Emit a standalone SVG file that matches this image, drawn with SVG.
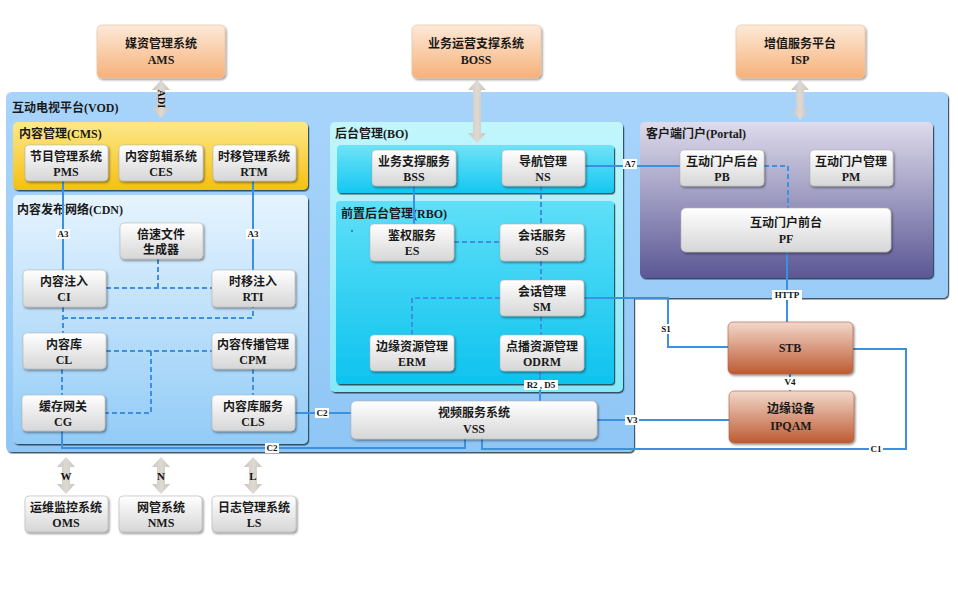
<svg xmlns="http://www.w3.org/2000/svg" width="958" height="590" viewBox="0 0 958 590">
<defs>
<linearGradient id="gVod" x1="0" y1="0" x2="0" y2="1"><stop offset="0" stop-color="#a8d4fb"/><stop offset="1" stop-color="#8fc6f5"/></linearGradient>
<linearGradient id="gCms" x1="0" y1="0" x2="0" y2="1"><stop offset="0" stop-color="#fde88a"/><stop offset="1" stop-color="#f6c012"/></linearGradient>
<linearGradient id="gCdn" x1="0" y1="0" x2="0" y2="1"><stop offset="0" stop-color="#e6f4fe"/><stop offset="1" stop-color="#92cbf7"/></linearGradient>
<linearGradient id="gBo" x1="0" y1="0" x2="0" y2="1"><stop offset="0" stop-color="#c2f6fc"/><stop offset="1" stop-color="#86e8f8"/></linearGradient>
<linearGradient id="gBand" x1="0" y1="0" x2="0" y2="1"><stop offset="0" stop-color="#6fe3f8"/><stop offset="1" stop-color="#14c7f1"/></linearGradient>
<linearGradient id="gRbo" x1="0" y1="0" x2="0" y2="1"><stop offset="0" stop-color="#5fdff8"/><stop offset="1" stop-color="#0ec3ef"/></linearGradient>
<linearGradient id="gPortal" x1="0" y1="0" x2="0" y2="1"><stop offset="0" stop-color="#dedbeb"/><stop offset="1" stop-color="#5b5795"/></linearGradient>
<linearGradient id="gNode" x1="0" y1="0" x2="0" y2="1"><stop offset="0" stop-color="#ffffff"/><stop offset="1" stop-color="#d6d6d6"/></linearGradient>
<linearGradient id="gPeach" x1="0" y1="0" x2="0" y2="1"><stop offset="0" stop-color="#fde9d8"/><stop offset="1" stop-color="#f6b17a"/></linearGradient>
<linearGradient id="gBrown" x1="0" y1="0" x2="0" y2="1"><stop offset="0" stop-color="#f3d8cb"/><stop offset="1" stop-color="#bd5a32"/></linearGradient>
<linearGradient id="gArrow" x1="0" y1="0" x2="1" y2="0"><stop offset="0" stop-color="#c9c4ba"/><stop offset="0.5" stop-color="#dedad3"/><stop offset="1" stop-color="#c9c4ba"/></linearGradient>
<filter id="sh" x="-10%" y="-10%" width="130%" height="140%"><feDropShadow dx="1.2" dy="1.5" stdDeviation="1" flood-color="#000" flood-opacity="0.45"/></filter>
<filter id="shP" x="-5%" y="-5%" width="110%" height="110%"><feDropShadow dx="1.2" dy="1.5" stdDeviation="0.6" flood-color="#1e2e40" flood-opacity="0.8"/></filter>
</defs>
<style>
.t{font-family:"Liberation Serif","Noto Sans CJK SC",serif;font-size:12px;font-weight:bold;fill:#1a1a1a;text-anchor:middle}
.ttl{font-family:"Liberation Serif","Noto Sans CJK SC",serif;font-size:12px;font-weight:bold;fill:#1a1a1a}
.l{font-family:"Liberation Serif",serif;font-size:9px;font-weight:bold;fill:#111;text-anchor:middle}
.lb{fill:#fff}
.node{fill:url(#gNode);stroke:#b5b5b5;stroke-width:0.6;filter:url(#sh)}
.peach{fill:url(#gPeach);stroke:#e8c2a0;stroke-width:0.6;filter:url(#sh)}
.brown{fill:url(#gBrown);stroke:#b06040;stroke-width:0.6;filter:url(#sh)}
.c{stroke:#3d8fe0;stroke-width:2;fill:none}
.d{stroke-dasharray:5 3}
.ga{fill:url(#gArrow)}
</style>
<rect width="958" height="590" fill="#ffffff"/>

<g id="vod">
<path d="M12,92 H942 Q948,92 948,98 V292 Q948,298 942,298 H634 V446 Q634,452 628,452 H12 Q6,452 6,446 V98 Q6,92 12,92 Z" fill="url(#gVod)" filter="url(#shP)"/>
<text class="ttl" x="12" y="112">互动电视平台(VOD)</text>
</g>

<g id="cms">
<rect x="13" y="122" width="295" height="68" rx="5" fill="url(#gCms)" filter="url(#shP)"/>
<text class="ttl" x="19" y="138">内容管理(CMS)</text>
</g>
<g id="cdn">
<rect x="13" y="195" width="295" height="249" rx="5" fill="url(#gCdn)" filter="url(#shP)"/>
<text class="ttl" x="17" y="214">内容发布网络(CDN)</text>
</g>
<g id="bo">
<rect x="330" y="122" width="293" height="270" rx="5" fill="url(#gBo)" filter="url(#shP)"/>
<text class="ttl" x="335" y="138">后台管理(BO)</text>
<rect x="337" y="145" width="277" height="48" rx="4" fill="url(#gBand)" filter="url(#shP)"/>
</g>
<g id="rbo">
<rect x="336" y="201" width="278" height="183" rx="4" fill="url(#gRbo)" filter="url(#shP)"/>
<text class="ttl" x="341" y="218">前置后台管理(RBO)</text>
<circle cx="352" cy="231" r="0.8" fill="#222"/>
</g>
<g id="portal">
<rect x="640" y="122" width="293" height="156" rx="5" fill="url(#gPortal)" filter="url(#shP)"/>
<text class="ttl" x="646" y="138">客户端门户(Portal)</text>
</g>

<g id="connectors">
<path class="c" d="M63,181 V270"/>
<path class="c" d="M253,181 V270"/>
<path class="c d" d="M158,259 V288"/>
<path class="c d" d="M106,288 H212"/>
<path class="c d" d="M63,307 V333"/>
<path class="c d" d="M63,318 H253 V307"/>
<path class="c d" d="M106,351 H212"/>
<path class="c d" d="M151,351 V413 H105"/>
<path class="c d" d="M62,369 V395"/>
<path class="c d" d="M253,369 V395"/>
<path class="c" d="M295,413 H351"/>
<path class="c" d="M62,431 V448 H465 V439"/>
<path class="c" d="M414,186 V224"/>
<path class="c d" d="M541,186 V224"/>
<path class="c d" d="M541,261 V280"/>
<path class="c d" d="M541,316 V335"/>
<path class="c d" d="M454,242 H500"/>
<path class="c d" d="M500,298 H412 V335"/>
<path class="c" d="M584,298 H668 V347 H728"/>
<path class="c" d="M585,166 H680"/>
<path class="c d" d="M764,166 H788 V208"/>
<path class="c" d="M787,252 V322"/>
<path class="c d" d="M790,374 V391"/>
<path class="c" d="M540,371 V401"/>
<path class="c" d="M597,420 H729"/>
<path class="c" d="M853,349 H906 V449 H482 V439"/>
<rect class="lb" x="56" y="229" width="14" height="10"/><text class="l" x="63" y="237">A3</text>
<rect class="lb" x="246" y="229" width="14" height="10"/><text class="l" x="253" y="237">A3</text>
<rect class="lb" x="315" y="408" width="14" height="10"/><text class="l" x="322" y="416">C2</text>
<rect class="lb" x="265" y="443" width="14" height="10"/><text class="l" x="272" y="451">C2</text>
<rect class="lb" x="623" y="159" width="14" height="10"/><text class="l" x="630" y="167">A7</text>
<rect class="lb" x="659" y="324" width="14" height="10"/><text class="l" x="666" y="332">S1</text>
<rect class="lb" x="772" y="290" width="30" height="10"/><text class="l" x="787" y="298">HTTP</text>
<rect class="lb" x="783" y="377" width="14" height="10"/><text class="l" x="790" y="385">V4</text>
<rect class="lb" x="524" y="380" width="34" height="10"/><text class="l" x="541" y="388">R2 , D5</text>
<rect class="lb" x="625" y="415" width="14" height="10"/><text class="l" x="632" y="423">V3</text>
<rect class="lb" x="869" y="444" width="14" height="10"/><text class="l" x="876" y="452">C1</text>
</g>

<g id="arrows">
<path class="ga" d="M161,80 L170,90 L165,90 L165,108 L170,108 L161,118 L152,108 L157,108 L157,90 L152,90 Z"/>
<text class="l" x="0" y="0" transform="translate(157.5,99) rotate(90)" style="font-size:10px">ADI</text>
<path class="ga" d="M477,80 L486,90 L481,90 L481,133 L486,133 L477,143 L468,133 L473,133 L473,90 L468,90 Z"/>
<path class="ga" d="M800,80 L809,90 L804,90 L804,110 L809,110 L800,120 L791,110 L796,110 L796,90 L791,90 Z"/>
<path class="ga" d="M66,457 L75,467 L70,467 L70,484 L75,484 L66,494 L57,484 L62,484 L62,467 L57,467 Z"/>
<text class="l" x="66" y="480" style="font-size:11px">W</text>
<path class="ga" d="M161,457 L170,467 L165,467 L165,484 L170,484 L161,494 L152,484 L157,484 L157,467 L152,467 Z"/>
<text class="l" x="161" y="480" style="font-size:11px">N</text>
<path class="ga" d="M253,457 L262,467 L257,467 L257,484 L262,484 L253,494 L244,484 L249,484 L249,467 L244,467 Z"/>
<text class="l" x="253" y="480" style="font-size:11px">L</text>
</g>

<g id="ams"><rect class="peach" x="97" y="25" width="128" height="53" rx="5"/><text class="t" x="161" y="48">媒资管理系统</text><text class="t" x="161" y="64">AMS</text></g>
<g id="boss"><rect class="peach" x="412" y="25" width="129" height="53" rx="5"/><text class="t" x="476" y="48">业务运营支撑系统</text><text class="t" x="476" y="64">BOSS</text></g>
<g id="isp"><rect class="peach" x="736" y="25" width="129" height="53" rx="5"/><text class="t" x="800" y="48">增值服务平台</text><text class="t" x="800" y="64">ISP</text></g>

<g id="pms"><rect class="node" x="25" y="145" width="83" height="36" rx="4"/><text class="t" x="66" y="161">节目管理系统</text><text class="t" x="66" y="176">PMS</text></g>
<g id="ces"><rect class="node" x="119" y="145" width="84" height="36" rx="4"/><text class="t" x="161" y="161">内容剪辑系统</text><text class="t" x="161" y="176">CES</text></g>
<g id="rtm"><rect class="node" x="213" y="145" width="83" height="36" rx="4"/><text class="t" x="254" y="161">时移管理系统</text><text class="t" x="254" y="176">RTM</text></g>

<g id="bsfg"><rect class="node" x="120" y="223" width="83" height="36" rx="4"/><text class="t" x="161" y="239">倍速文件</text><text class="t" x="161" y="254">生成器</text></g>
<g id="ci"><rect class="node" x="23" y="270" width="83" height="37" rx="4"/><text class="t" x="64" y="286">内容注入</text><text class="t" x="64" y="301">CI</text></g>
<g id="rti"><rect class="node" x="212" y="270" width="83" height="37" rx="4"/><text class="t" x="253" y="286">时移注入</text><text class="t" x="253" y="301">RTI</text></g>
<g id="cl"><rect class="node" x="23" y="333" width="83" height="36" rx="4"/><text class="t" x="64" y="349">内容库</text><text class="t" x="64" y="364">CL</text></g>
<g id="cpm"><rect class="node" x="212" y="333" width="83" height="36" rx="4"/><text class="t" x="253" y="349">内容传播管理</text><text class="t" x="253" y="364">CPM</text></g>
<g id="cg"><rect class="node" x="22" y="395" width="83" height="36" rx="4"/><text class="t" x="63" y="411">缓存网关</text><text class="t" x="63" y="426">CG</text></g>
<g id="cls"><rect class="node" x="212" y="395" width="83" height="36" rx="4"/><text class="t" x="253" y="411">内容库服务</text><text class="t" x="253" y="426">CLS</text></g>

<g id="bss"><rect class="node" x="372" y="150" width="84" height="36" rx="4"/><text class="t" x="414" y="166">业务支撑服务</text><text class="t" x="414" y="181">BSS</text></g>
<g id="ns"><rect class="node" x="502" y="150" width="83" height="36" rx="4"/><text class="t" x="543" y="166">导航管理</text><text class="t" x="543" y="181">NS</text></g>
<g id="es"><rect class="node" x="370" y="224" width="84" height="37" rx="4"/><text class="t" x="412" y="240">鉴权服务</text><text class="t" x="412" y="255">ES</text></g>
<g id="ss"><rect class="node" x="500" y="224" width="84" height="37" rx="4"/><text class="t" x="542" y="240">会话服务</text><text class="t" x="542" y="255">SS</text></g>
<g id="sm"><rect class="node" x="500" y="280" width="84" height="36" rx="4"/><text class="t" x="542" y="296">会话管理</text><text class="t" x="542" y="311">SM</text></g>
<g id="erm"><rect class="node" x="370" y="335" width="84" height="36" rx="4"/><text class="t" x="412" y="351">边缘资源管理</text><text class="t" x="412" y="366">ERM</text></g>
<g id="odrm"><rect class="node" x="500" y="335" width="84" height="36" rx="4"/><text class="t" x="542" y="351">点播资源管理</text><text class="t" x="542" y="366">ODRM</text></g>
<g id="vss"><rect class="node" x="351" y="401" width="246" height="38" rx="5"/><text class="t" x="474" y="417">视频服务系统</text><text class="t" x="474" y="433">VSS</text></g>

<g id="pb"><rect class="node" x="680" y="150" width="84" height="36" rx="4"/><text class="t" x="722" y="166">互动门户后台</text><text class="t" x="722" y="181">PB</text></g>
<g id="pm"><rect class="node" x="810" y="150" width="83" height="36" rx="4"/><text class="t" x="851" y="166">互动门户管理</text><text class="t" x="851" y="181">PM</text></g>
<g id="pf"><rect class="node" x="681" y="208" width="210" height="44" rx="5"/><text class="t" x="786" y="227">互动门户前台</text><text class="t" x="786" y="243">PF</text></g>

<g id="stb"><rect class="brown" x="728" y="322" width="125" height="52" rx="5"/><text class="t" x="790" y="352">STB</text></g>
<g id="ipqam"><rect class="brown" x="729" y="391" width="125" height="52" rx="5"/><text class="t" x="791" y="413">边缘设备</text><text class="t" x="791" y="430">IPQAM</text></g>

<g id="oms"><rect class="node" x="25" y="496" width="83" height="36" rx="4"/><text class="t" x="66" y="512">运维监控系统</text><text class="t" x="66" y="527">OMS</text></g>
<g id="nms"><rect class="node" x="119" y="496" width="83" height="36" rx="4"/><text class="t" x="161" y="512">网管系统</text><text class="t" x="161" y="527">NMS</text></g>
<g id="ls"><rect class="node" x="212" y="496" width="84" height="36" rx="4"/><text class="t" x="254" y="512">日志管理系统</text><text class="t" x="254" y="527">LS</text></g>
</svg>
